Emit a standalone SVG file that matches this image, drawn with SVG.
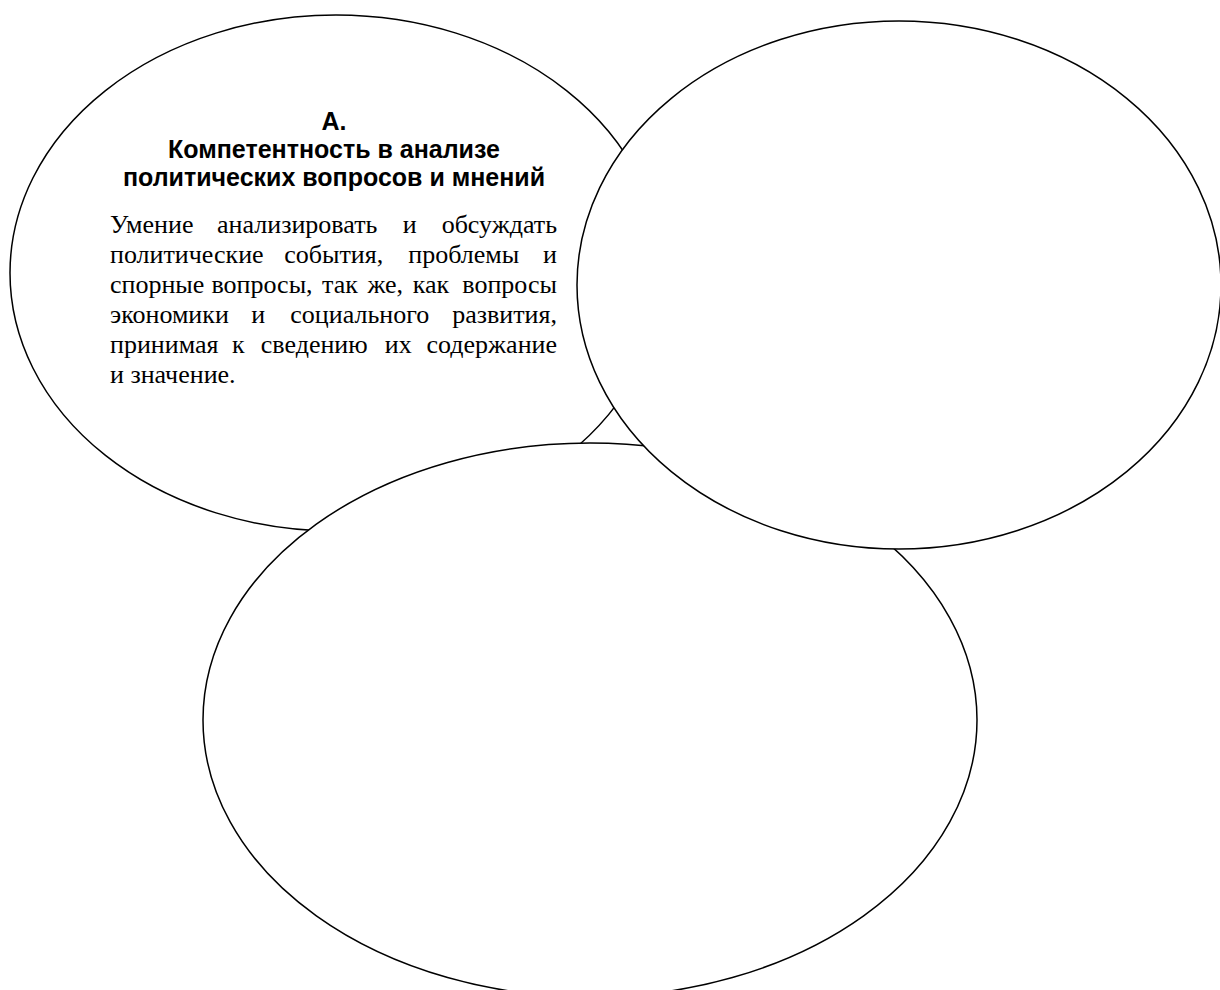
<svg xmlns="http://www.w3.org/2000/svg" width="1220" height="990" viewBox="0 0 1220 990">
<style>
.shape{fill:#fff;stroke:#000;stroke-width:1.5}
.h{font-family:"Liberation Sans",Arial,sans-serif;font-weight:bold;font-size:25px;text-anchor:middle;fill:#000}
.b{font-family:"Liberation Serif","Times New Roman",serif;font-size:26px;fill:#000}
.m{text-anchor:middle}
.e{text-anchor:end}
</style>
<rect width="1220" height="990" fill="#fff"/>
<g id="nodeA">
<ellipse class="shape" cx="336" cy="273" rx="326" ry="258"/>
<text class="h" x="334" y="130">А.</text>
<text class="h" x="334" y="158">Компетентность в анализе</text>
<text class="h" x="334" y="186">политических вопросов и мнений</text>
<text class="b" y="233"><tspan x="110">Умение</tspan> <tspan class="m" x="300.5">анализировать</tspan> <tspan class="m" x="413">и</tspan> <tspan class="e" x="557">обсуждать</tspan></text>
<text class="b" y="263"><tspan x="110">политические</tspan> <tspan class="m" x="337">события,</tspan> <tspan class="m" x="467">проблемы</tspan> <tspan class="e" x="557">и</tspan></text>
<text class="b" y="293"><tspan x="110">спорные</tspan> <tspan class="m" x="265.3">вопросы,</tspan> <tspan class="m" x="343.3">так</tspan> <tspan class="m" x="388.5">же,</tspan> <tspan class="m" x="434.3">как</tspan> <tspan class="e" x="557">вопросы</tspan></text>
<text class="b" y="323"><tspan x="110">экономики</tspan> <tspan class="m" x="261.5">и</tspan> <tspan class="m" x="363">социального</tspan> <tspan class="e" x="557">развития,</tspan></text>
<text class="b" y="353"><tspan x="110">принимая</tspan> <tspan class="m" x="241.5">к</tspan> <tspan class="m" x="317.5">сведению</tspan> <tspan class="m" x="401.5">их</tspan> <tspan class="e" x="557">содержание</tspan></text>
<text class="b" x="110" y="383">и значение.</text>
</g>
<g id="nodeC">
<ellipse class="shape" cx="590" cy="720" rx="387" ry="277"/>
</g>
<g id="nodeB">
<ellipse class="shape" cx="899" cy="285" rx="322" ry="264"/>
</g>
<g id="connectors"></g>
</svg>
